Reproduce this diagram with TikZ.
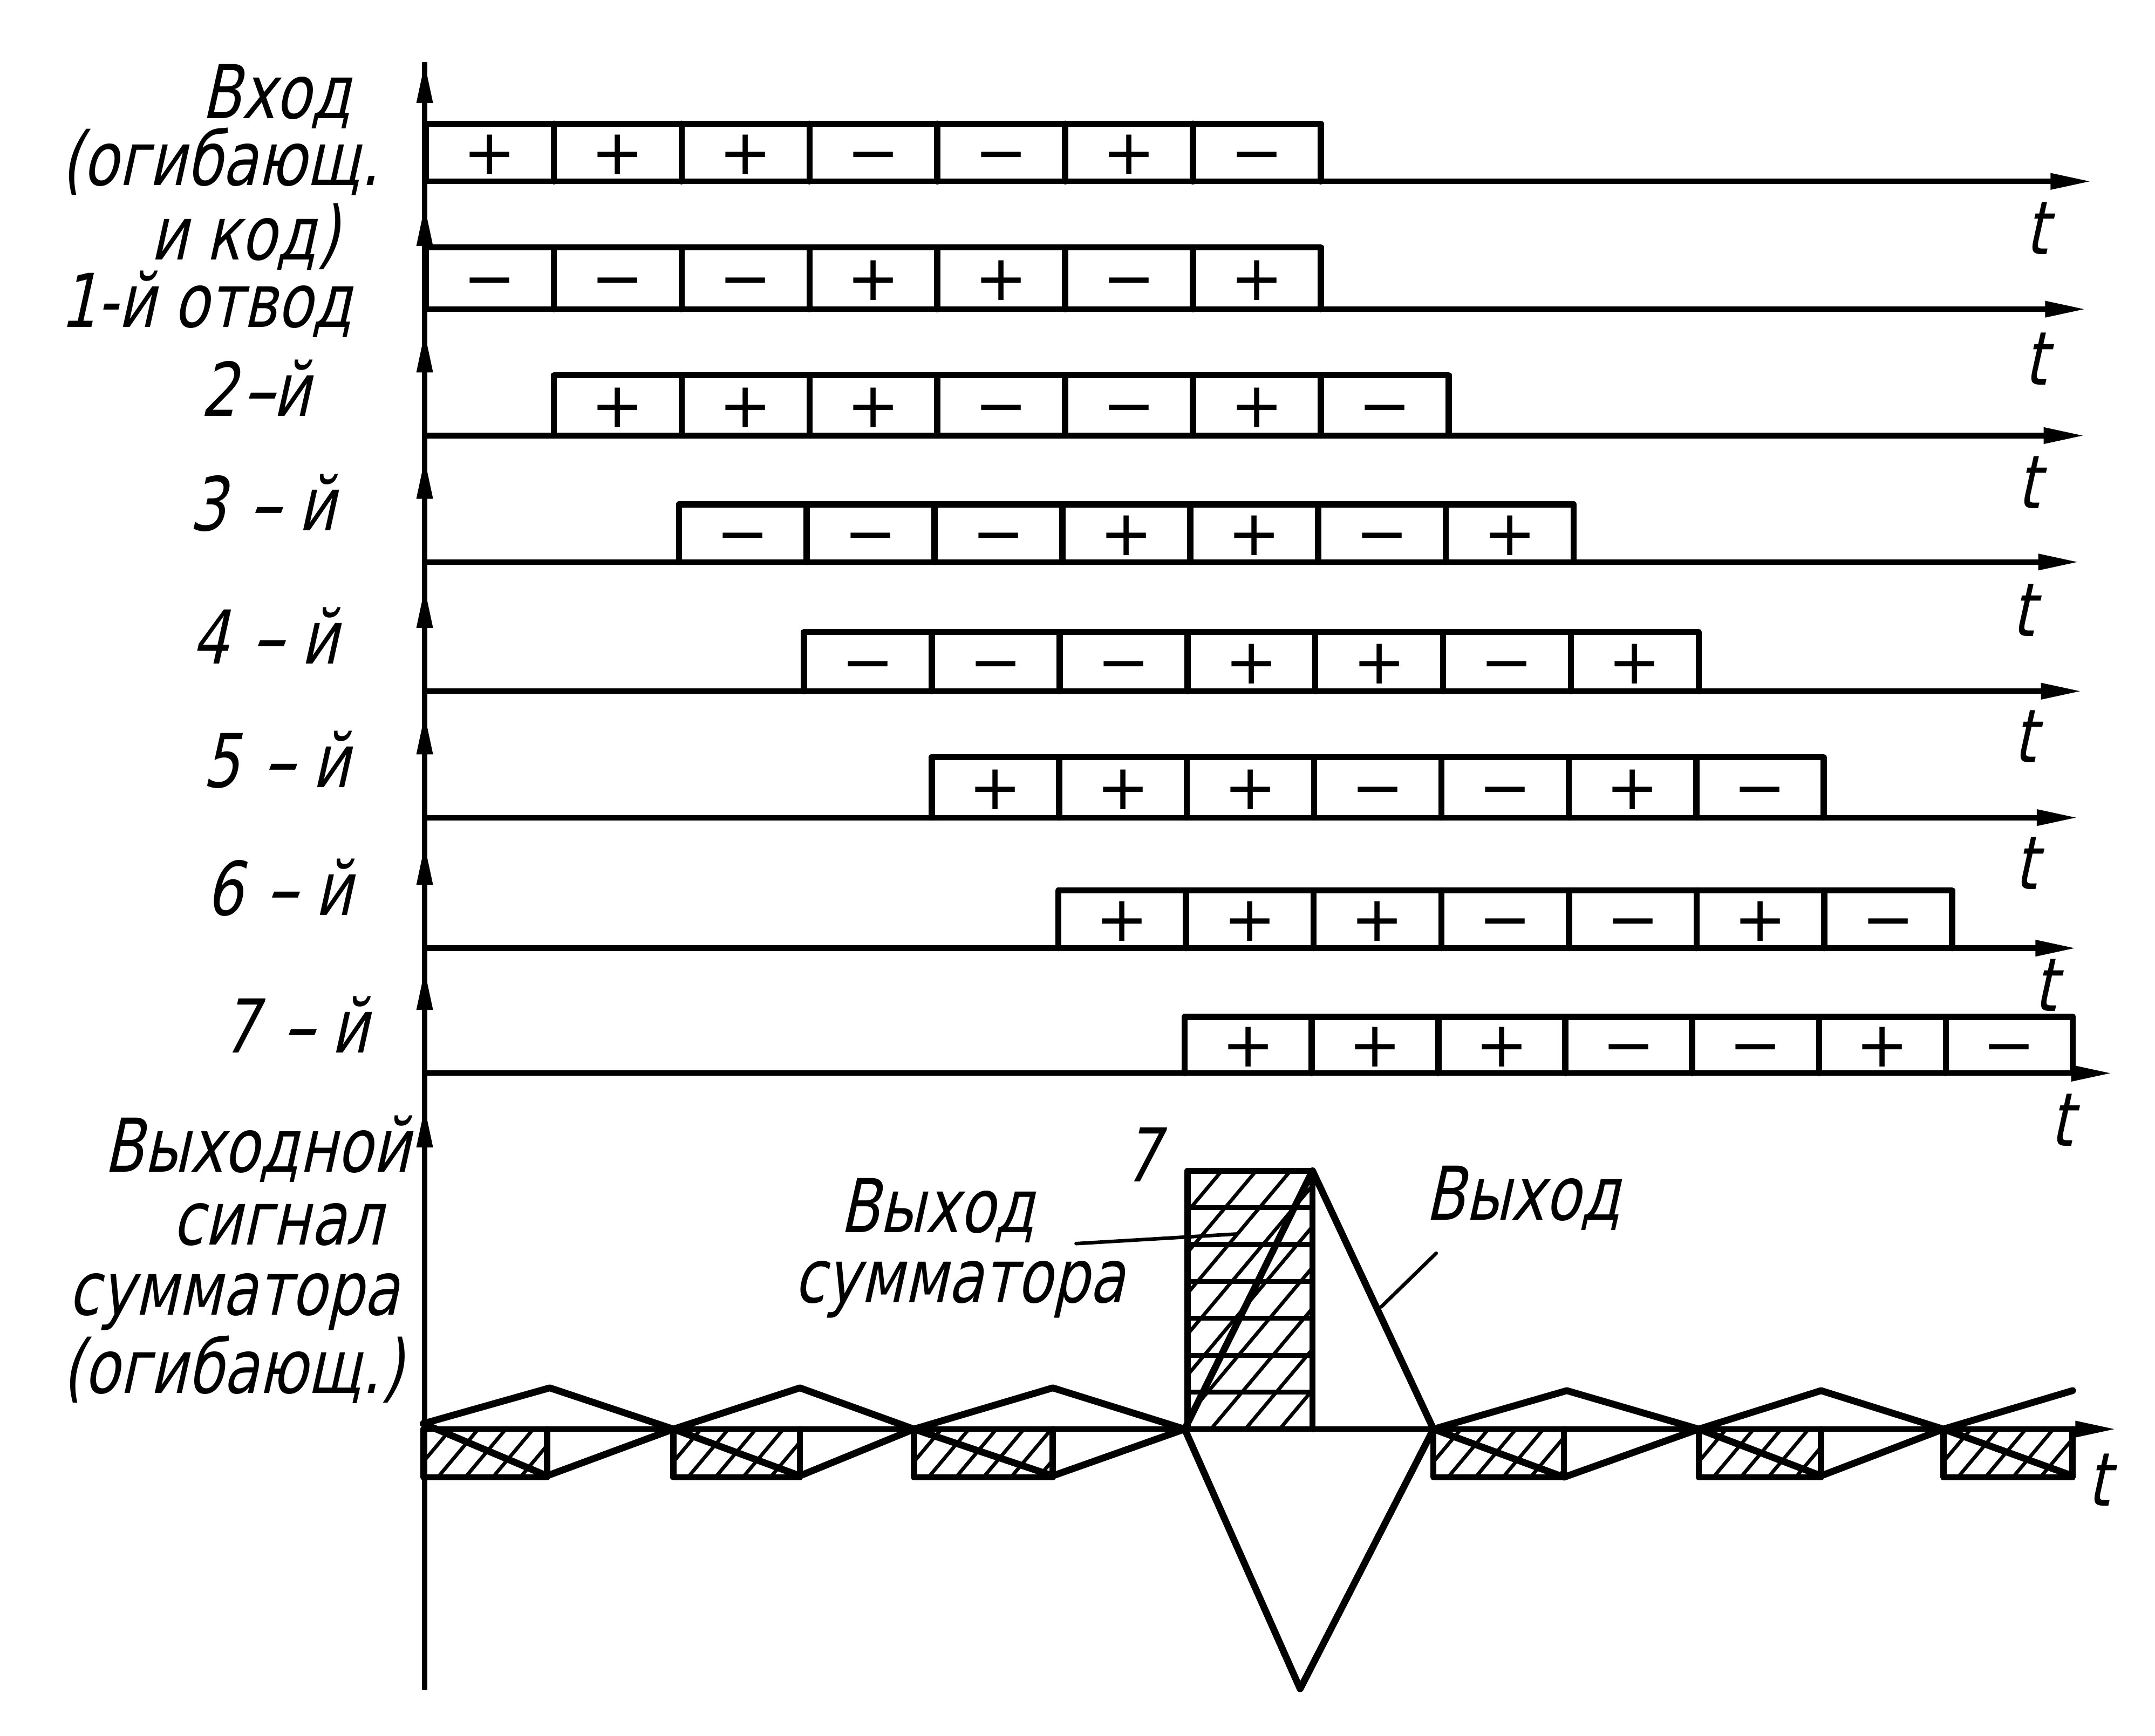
\documentclass[tikz,border=0pt]{standalone}
\usepackage{fontspec}
\usepackage{graphicx}
\usetikzlibrary{arrows.meta}
\newfontfamily\gost{DejaVu Sans}[FakeSlant=0.22,FakeStretch=0.78]
\newfontfamily\signfont{DejaVu Sans}
\newcommand\dsh{\scalebox{1.7}[1]{-}}
% #1 id, #2 x0, #3 top, #4 base, #5 cell width, #6 arrow tip x, #7 vertical tip y, #8 signs
\newcommand\sigrow[8]{%
  \draw[vaxis,tipar] (309,{#7+38}) -- (309,#7);
  \draw[axisline,tipar] (309,#4) -- (#6,#4);
  \draw[boxline] (#2,#4) -- (#2,#3) -- ({#2+7*#5},#3) -- ({#2+7*#5},#4);
  \foreach \i in {1,...,6} \draw[boxline] ({#2+\i*#5},#3) -- ({#2+\i*#5},#4);
  \foreach \s [count=\i from 0] in {#8}
    \node[sgn] (sg#1-\i) at ({#2+(\i+0.5)*#5},{(#3+#4)/2+16}) {\s};
}
% hatch: #1 x1, #2 y1 (top), #3 x2, #4 y2 (bottom), #5 spacing
\newcommand\hatchrect[5]{%
  \begin{scope}
    \clip (#1,#2) rectangle (#3,#4);
    \foreach \j in {0,...,14}
      \draw[hatchline] ({#1-0.84*(#4-#2)+\j*#5},#4) -- ({#1+\j*#5},#2);
  \end{scope}}
\begin{document}
\begin{tikzpicture}[x=1pt,y=-1pt,
  lbl/.style={font=\gost\fontsize{54}{58}\selectfont, anchor=base, inner sep=0pt},
  tlbl/.style={font=\gost\fontsize{54}{58}\selectfont, anchor=base, inner sep=0pt},
  sgn/.style={font=\signfont\fontsize{46}{50}\selectfont, anchor=base, inner sep=0pt},
  boxline/.style={line width=4.5pt, line join=round, line cap=round},
  axisline/.style={line width=4pt},
  vaxis/.style={line width=3.8pt},
  tipar/.style={-{Triangle[length=30pt,width=11pt]}},
  zig/.style={line width=5pt, line join=round, line cap=round},
  hatchline/.style={line width=2.6pt},
  barline/.style={line width=3.6pt},
  leader/.style={line width=2.6pt, line cap=round}]
\useasboundingbox (0,0) rectangle (1568,1263);
\fill[white] (0,0) rectangle (1568,1263);

% main vertical axis
\draw[vaxis] (309,1230) -- (309,45);

\sigrow{0}{310}{90}{132}{93}{1522}{45}{+,+,+,−,−,+,−}
\sigrow{1}{310}{180}{225}{93}{1518}{149}{−,−,−,+,+,−,+}
\sigrow{2}{403}{273}{317}{93}{1517}{241}{+,+,+,−,−,+,−}
\sigrow{3}{494}{367}{409}{93}{1513}{333}{−,−,−,+,+,−,+}
\sigrow{4}{585}{460}{503}{93}{1515}{427}{−,−,−,+,+,−,+}
\sigrow{5}{678}{551}{595}{92.7}{1512}{519}{+,+,+,−,−,+,−}
\sigrow{6}{770}{648}{690}{92.9}{1511}{614}{+,+,+,−,−,+,−}
\sigrow{7}{862}{740}{781}{92.3}{1537}{705}{+,+,+,−,−,+,−}
\draw[vaxis,tipar] (309,843) -- (309,805);

% t labels
\node[tlbl] (t0) at (1482,185) {t};
\node[tlbl] (t1) at (1481,280) {t};
\node[tlbl] (t2) at (1476,370) {t};
\node[tlbl] (t3) at (1472,463) {t};
\node[tlbl] (t4) at (1473,555) {t};
\node[tlbl] (t5) at (1474,647) {t};
\node[tlbl] (t6) at (1488,736) {t};
\node[tlbl] (t7) at (1500,834) {t};
\node[tlbl] (t8) at (1527,1096) {t};

% left labels
\node[lbl] (l0) at (201,86) {Вход};
\node[lbl] (l0b) at (160,135) {(огибающ.};
\node[lbl] (l0c) at (178,189) {и код)};
\node[lbl] (l1) at (150,238) {1-й отвод};
\node[lbl] (l2) at (186,303) {2\dsh й};
\node[lbl] (l3) at (191,386) {3 \dsh{} й};
\node[lbl] (l4) at (193,483) {4 \dsh{} й};
\node[lbl] (l5) at (201,573) {5 \dsh{} й};
\node[lbl] (l6) at (203,666) {6 \dsh{} й};
\node[lbl] (l7) at (215,766) {7 \dsh{} й};
\node[lbl] (o1) at (187,853) {Выходной};
\node[lbl] (o2) at (202,906) {сигнал};
\node[lbl] (o3) at (170,957) {сумматора};
\node[lbl] (o4) at (169,1014) {(огибающ.)};

% output: hatched rectangles
\hatchrect{308}{1040}{398}{1075}{20}
\hatchrect{490}{1040}{582}{1075}{20}
\hatchrect{665}{1040}{766}{1075}{20}
\hatchrect{1043}{1040}{1138}{1075}{20}
\hatchrect{1236}{1040}{1325}{1075}{20}
\hatchrect{1414}{1040}{1508}{1075}{20}
\hatchrect{864}{852}{955}{1040}{25}
\foreach \za/\zb in {308/398,490/582,665/766,1043/1138,1236/1325,1414/1508}
  \draw[boxline] (\za,1040) -- (\za,1075) -- (\zb,1075) -- (\zb,1040);
\draw[boxline] (864,1040) -- (864,852) -- (955,852) -- (955,1040);
\foreach \j in {1,...,6} \draw[barline] (864,{852+\j*26.857}) -- (955,{852+\j*26.857});

% output axis
\draw[axisline,tipar] (309,1040) -- (1540,1040);

% envelope
\draw[zig] (308,1036) -- (400,1010) -- (490,1040) -- (582,1010) -- (665,1040) -- (766,1010)
  -- (862,1040) -- (955,852) -- (1043,1040) -- (1140,1012) -- (1236,1040) -- (1325,1012)
  -- (1414,1040) -- (1508,1012);
\draw[zig] (308,1036) -- (398,1074) -- (490,1040) -- (582,1074) -- (665,1040) -- (766,1074)
  -- (862,1040) -- (946,1229) -- (1043,1040) -- (1138,1075) -- (1236,1040) -- (1325,1074)
  -- (1414,1040) -- (1508,1074);

% output labels
\node[lbl] (pk) at (831,860) {7};
\node[lbl] (s1) at (682,897) {Выход};
\node[lbl] (s2) at (698,948) {сумматора};
\node[lbl] (s3) at (1108,888) {Выход};
\coordinate (ls1) at (783,905);
\coordinate (ls2) at (900,898);
\coordinate (lr1) at (1045,912);
\coordinate (lr2) at (1005,951);
\draw[leader] (ls1) -- (ls2);
\draw[leader] (lr1) -- (lr2);
\end{tikzpicture}
\end{document}
